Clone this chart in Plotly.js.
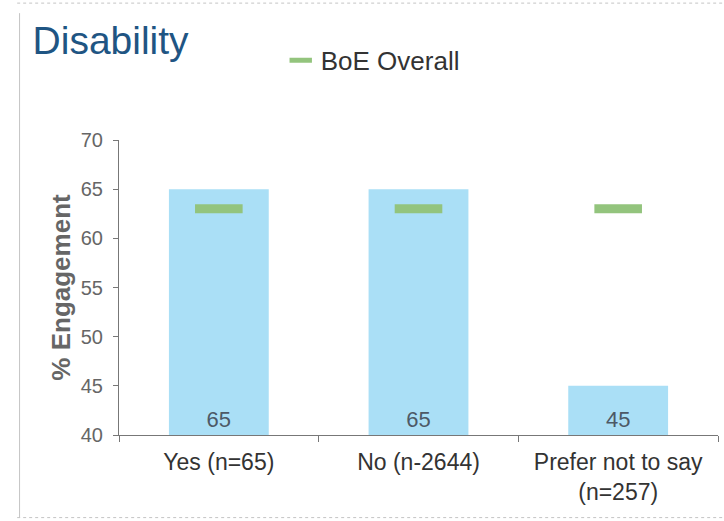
<!DOCTYPE html>
<html>
<head>
<meta charset="utf-8">
<script src="https://cdn.plot.ly/plotly-3.0.1.min.js"></script>
<style>html,body{margin:0;padding:0;background:#fff;}#chart{width:724px;height:521px;}</style>
</head>
<body>
<div id="chart"></div>
<script>
var categories = ["Yes (n=65)", "No (n-2644)", "Prefer not to say<br>(n=257)"];
var engagement = [65, 65, 45];
var boeOverall = [63, 63, 63];
var yTicks = [40, 45, 50, 55, 60, 65, 70];
var axisFloor = 40;

var barTrace = {
  type: "bar",
  x: categories,
  y: engagement.map(function (v) { return v - axisFloor; }),
  base: axisFloor,
  width: 0.5,
  marker: {color: "#aadff6"},
  text: engagement.map(String),
  textposition: "inside",
  insidetextanchor: "start",
  textangle: 0,
  textfont: {family: "Liberation Sans, Arial, sans-serif", size: 22, color: "#4d5966"},
  showlegend: false,
  hoverinfo: "x+text"
};

var boeTrace = {
  type: "scatter",
  mode: "markers",
  name: "BoE Overall",
  x: categories,
  y: boeOverall,
  marker: {symbol: "line-ew-open", size: 34, color: "#93c47d", line: {color: "#93c47d", width: 9}},
  showlegend: true
};

var frameColor = "#c4c4c4";
var layout = {
  width: 724,
  height: 521,
  margin: {l: 119, r: 6, t: 140, b: 86},
  paper_bgcolor: "#ffffff",
  plot_bgcolor: "#ffffff",
  font: {family: "Liberation Sans, Arial, sans-serif", color: "#333"},
  title: {
    text: "Disability",
    font: {family: "Liberation Sans, Arial, sans-serif", size: 39, color: "#1f5583"},
    xref: "container", x: 0.045, xanchor: "left",
    yref: "container", y: 0.922, yanchor: "middle"
  },
  showlegend: true,
  legend: {
    x: 0.27, xanchor: "left", y: 1.27, yanchor: "middle",
    orientation: "h",
    font: {size: 26, color: "#333"},
    bgcolor: "rgba(0,0,0,0)",
    itemwidth: 30
  },
  xaxis: {
    type: "category",
    showline: true, linecolor: "#777", linewidth: 1,
    ticks: "outside", tickson: "boundaries", ticklen: 6, tickcolor: "#777",
    tickfont: {size: 23, color: "#333"},
    ticklabelstandoff: 6,
    showgrid: false, zeroline: false, fixedrange: true
  },
  yaxis: {
    range: [40, 70],
    tickvals: yTicks,
    showline: true, linecolor: "#777", linewidth: 1,
    ticks: "outside", ticklen: 5, tickcolor: "#777",
    tickfont: {size: 20, color: "#666"},
    ticklabelstandoff: 6,
    showgrid: false, zeroline: false,
    title: {text: "<b>% Engagement</b>", font: {size: 26, color: "#666"}, standoff: 2},
    fixedrange: true
  },
  bargap: 0.5,
  shapes: [
    {type: "line", xref: "paper", yref: "paper", x0: -0.17, x1: 1.02, y0: 1.464, y1: 1.464, line: {color: frameColor, width: 1, dash: "dot"}},
    {type: "line", xref: "paper", yref: "paper", x0: -0.17, x1: 1.02, y0: -0.28, y1: -0.28, line: {color: frameColor, width: 1, dash: "dot"}},
    {type: "line", xref: "paper", yref: "paper", x0: -0.166, x1: -0.166, y0: -0.28, y1: 1.43, line: {color: frameColor, width: 1}}
  ]
};

Plotly.newPlot("chart", [barTrace, boeTrace], layout, {displayModeBar: false, staticPlot: true});
</script>
</body>
</html>
